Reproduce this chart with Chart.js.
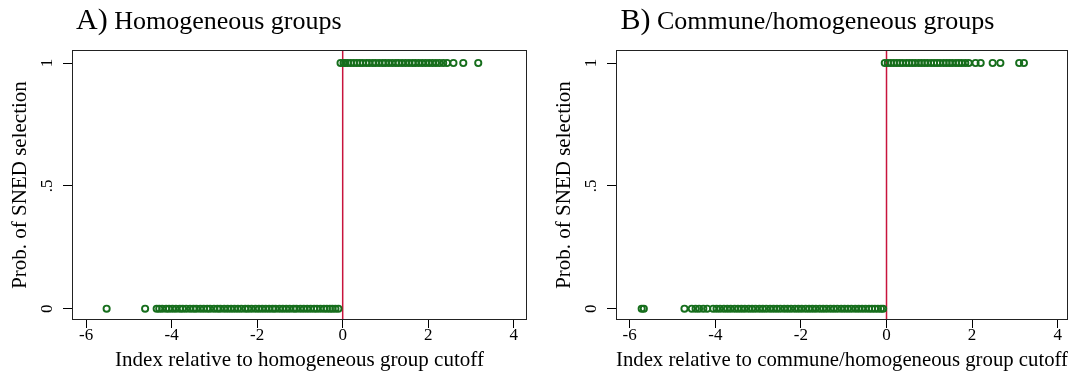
<!DOCTYPE html>
<html>
<head>
<meta charset="utf-8">
<script src="https://cdn.jsdelivr.net/npm/chart.js@4.4.1/dist/chart.umd.min.js"></script>
<style>
  body { margin: 0; background: #fff; }
  #wrap { position: relative; width: 1077px; height: 384px; }
  canvas { position: absolute; top: 0; }
</style>
</head>
<body>
<div id="wrap">
  <canvas id="chartA" width="540" height="384" style="left:0"></canvas>
  <canvas id="chartB" width="537" height="384" style="left:540px"></canvas>
</div>
<script>
// axis ticks
const xTicks = [-6, -4, -2, 0, 2, 4];
const yTicks = [0, 0.5, 1];
const yTickLabels = ['0', '.5', '1'];
const cutoff = 0;

// A) homogeneous groups, index values
const homogZero = [-5.52, -4.62, -4.35, -4.29, -4.22, -4.13, -4.06, -3.98, -3.9, -3.81, -3.74, -3.66,
  -3.57, -3.49, -3.42, -3.33, -3.25, -3.17, -3.1, -3.01, -2.93, -2.86, -2.77, -2.69, -2.61, -2.53,
  -2.45, -2.37, -2.28, -2.21, -2.13, -2.04, -1.96, -1.88, -1.8, -1.72, -1.64, -1.57, -1.48, -1.4,
  -1.32, -1.24, -1.15, -1.08, -0.99, -0.91, -0.83, -0.75, -0.67, -0.6, -0.52, -0.44, -0.37, -0.3,
  -0.24, -0.17, -0.1];
const homogOne = [-0.05, 0.02, 0.06, 0.12, 0.19, 0.26, 0.33, 0.4, 0.47, 0.55, 0.62, 0.7, 0.77, 0.85,
  0.93, 1.0, 1.08, 1.16, 1.24, 1.31, 1.39, 1.47, 1.55, 1.63, 1.7, 1.78, 1.86, 1.94, 2.02, 2.1, 2.18,
  2.26, 2.35, 2.44, 2.59, 2.82, 3.17];

// B) commune/homogeneous groups
const communeZero = [-5.72, -5.67, -4.72, -4.55, -4.46, -4.38, -4.28, -4.19, -4.05, -3.97, -3.89, -3.8,
  -3.72, -3.64, -3.55, -3.47, -3.39, -3.31, -3.22, -3.14, -3.06, -2.97, -2.89, -2.81, -2.72, -2.64,
  -2.56, -2.48, -2.39, -2.31, -2.23, -2.14, -2.06, -1.98, -1.89, -1.81, -1.73, -1.65, -1.56, -1.48,
  -1.4, -1.31, -1.23, -1.15, -1.06, -0.98, -0.9, -0.82, -0.73, -0.65, -0.57, -0.49, -0.41, -0.34,
  -0.27, -0.2, -0.13, -0.08];
const communeOne = [-0.04, 0.03, 0.1, 0.17, 0.24, 0.31, 0.38, 0.46, 0.53, 0.6, 0.67, 0.75, 0.82, 0.89,
  0.96, 1.04, 1.11, 1.18, 1.25, 1.33, 1.4, 1.47, 1.54, 1.62, 1.69, 1.76, 1.84, 1.92, 2.08, 2.2, 2.48,
  2.66, 3.1, 3.21];

const serif = '"Liberation Serif", "Times New Roman", serif';
const green = 'rgb(22,110,28)';
const red = 'rgb(200,20,60)';
const yMin = -0.046, yMax = 1.053;

// plot box, rotated y tick labels and the panel heading
const frame = {
  id: 'frame',
  afterDraw(chart, args, opts) {
    const {ctx, chartArea: a, scales} = chart;
    ctx.save();
    ctx.strokeStyle = '#222';
    ctx.lineWidth = 1;
    ctx.strokeRect(a.left + 0.5, a.top + 0.5, a.right - a.left - 1, a.bottom - a.top - 1);

    ctx.fillStyle = '#000';
    ctx.font = '17px ' + serif;
    ctx.textAlign = 'center';
    ctx.textBaseline = 'middle';
    yTicks.forEach((v, i) => {
      ctx.save();
      ctx.translate(a.left - 24, scales.y.getPixelForValue(v));
      ctx.rotate(-Math.PI / 2);
      ctx.fillText(yTickLabels[i], 0, 0);
      ctx.restore();
    });

    ctx.textAlign = 'left';
    ctx.textBaseline = 'alphabetic';
    ctx.font = '30px ' + serif;
    ctx.fillText(opts.letter, opts.headX, 29);
    let w = ctx.measureText(opts.letter).width;
    ctx.font = '26px ' + serif;
    ctx.fillText(' ' + opts.heading, opts.headX + w, 29);
    ctx.restore();
  }
};

function panel(id, letter, heading, xLabel, zeros, ones, xMin, xMax, axisW, padRight, headX) {
  let pts = zeros.map(x => ({x: x, y: 0})).concat(ones.map(x => ({x: x, y: 1})));
  return new Chart(document.getElementById(id), {
    type: 'scatter',
    data: {
      datasets: [{
        data: pts,
        pointStyle: 'circle',
        pointRadius: 3.1,
        borderWidth: 1.9,
        borderColor: green,
        backgroundColor: 'rgba(0,0,0,0)',
        order: 0
      }, {
        data: [{x: cutoff, y: yMin}, {x: cutoff, y: yMax}],
        showLine: true,
        borderColor: red,
        borderWidth: 1.5,
        pointRadius: 0,
        order: 1
      }]
    },
    options: {
      responsive: false,
      animation: false,
      events: [],
      layout: {padding: {top: 50, right: padRight, left: 0, bottom: 0}},
      plugins: {
        legend: {display: false},
        tooltip: {enabled: false},
        frame: {letter: letter, heading: heading, headX: headX}
      },
      scales: {
        x: {
          type: 'linear',
          min: xMin,
          max: xMax,
          afterBuildTicks: s => { s.ticks = xTicks.map(v => ({value: v})); },
          afterFit: s => { s.height = 64; },
          border: {display: false},
          grid: {drawOnChartArea: false, drawTicks: true, tickLength: 8, color: '#000'},
          ticks: {color: '#000', font: {family: serif, size: 17}, padding: -3, maxRotation: 0,
            autoSkip: false, callback: v => String(v)},
          title: {display: true, text: xLabel, color: '#000', font: {family: serif, size: 21},
            padding: {top: 0, bottom: 11}}
        },
        y: {
          min: yMin,
          max: yMax,
          afterBuildTicks: s => { s.ticks = yTicks.map(v => ({value: v})); },
          afterFit: s => { s.width = axisW; },
          border: {display: false},
          grid: {drawOnChartArea: false, drawTicks: true, tickLength: 9, color: '#000'},
          ticks: {display: false},
          title: {display: true, text: 'Prob. of SNED selection', color: '#000',
            font: {family: serif, size: 21}, padding: {top: axisW - 52 - 12.6, bottom: 0}}
        }
      }
    },
    plugins: [frame]
  });
}

panel('chartA', 'A)', 'Homogeneous groups', 'Index relative to homogeneous group cutoff',
  homogZero, homogOne, -6.33, 4.31, 72, 13, 76);
panel('chartB', 'B)', 'Commune/homogeneous groups', 'Index relative to commune/homogeneous group cutoff',
  communeZero, communeOne, -6.32, 4.24, 76, 9, 80.5);
</script>
</body>
</html>
